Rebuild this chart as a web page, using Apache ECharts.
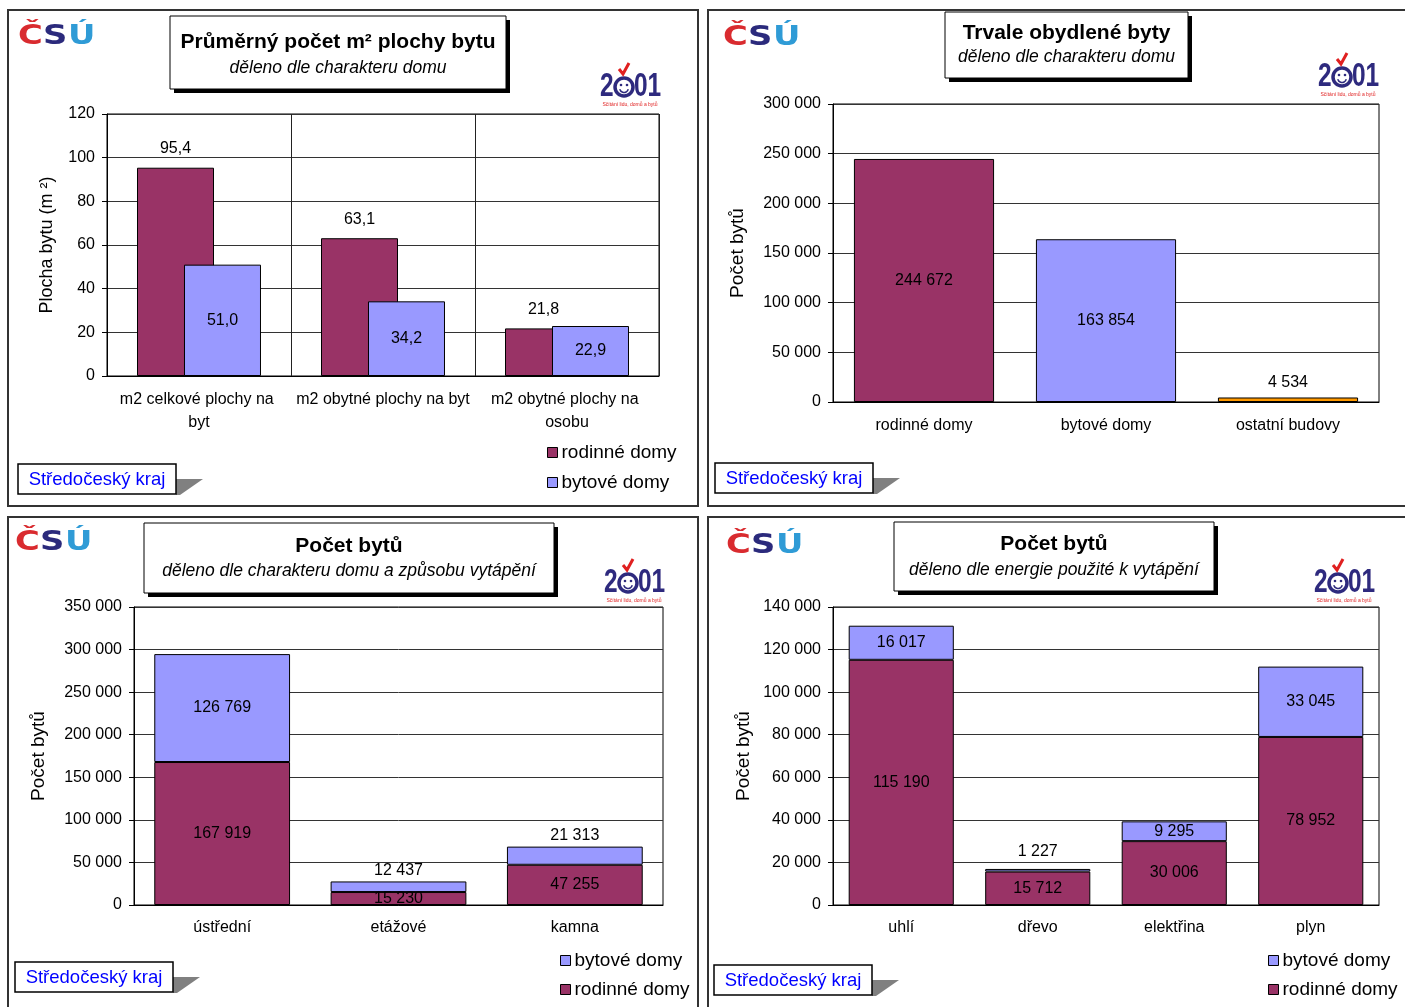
<!DOCTYPE html>
<html lang="cs">
<head>
<meta charset="utf-8">
<title>Středočeský kraj – byty</title>
<script src="https://cdn.jsdelivr.net/npm/echarts@6/dist/echarts.min.js"></script>
<style>
html, body { margin: 0; padding: 0; background: #fff; }
#chart { width: 1405px; height: 1007px; }
</style>
</head>
<body>
<div id="chart"></div>
<script>
// Průměrná plocha bytu
const plochaKategorie = ['m2 celkové plochy na byt', 'm2 obytné plochy na byt', 'm2 obytné plochy na osobu'];
const plochaRodinne = [95.4, 63.1, 21.8];
const plochaBytove = [51.0, 34.2, 22.9];
const plochaOsa = [0, 120, 20];

// Trvale obydlené byty
const obydleneKategorie = ['rodinné domy', 'bytové domy', 'ostatní budovy'];
const obydleneHodnoty = [244672, 163854, 4534];
const obydleneOsa = [0, 300000, 50000];

// Způsob vytápění
const vytapeniKategorie = ['ústřední', 'etážové', 'kamna'];
const vytapeniRodinne = [167919, 15230, 47255];
const vytapeniBytove = [126769, 12437, 21313];
const vytapeniOsa = [0, 350000, 50000];

// Energie k vytápění
const energieKategorie = ['uhlí', 'dřevo', 'elektřina', 'plyn'];
const energieRodinne = [115190, 15712, 30006, 78952];
const energieBytove = [16017, 1227, 9295, 33045];
const energieOsa = [0, 140000, 20000];

const FONT = '"Liberation Sans", Arial, sans-serif';
const RODINNE = '#993366';
const BYTOVE = '#9999ff';
const OSTATNI = '#ff9900';
const NAVY = '#2e2a7e';
const obydleneBarvy = [RODINNE, BYTOVE, OSTATNI];

function mezery(v) {
    return String(Math.round(v)).replace(/\B(?=(\d{3})+(?!\d))/g, ' ');
}
function carka(v) {
    return Number(v).toFixed(1).replace('.', ',');
}

const okraj = { borderColor: '#000', borderWidth: 1 };
const popisek = { color: '#000', fontSize: 16, fontFamily: FONT };

function kategorieOsa(gridIndex, data, extra) {
    return Object.assign({
        type: 'category', gridIndex, data,
        axisLine: { lineStyle: { color: '#000', width: 1 } },
        axisTick: { length: 5, lineStyle: { color: '#000' } },
        axisLabel: Object.assign({ margin: 16, interval: 0 }, popisek)
    }, extra || {});
}

function hodnotovaOsa(gridIndex, osa, name, nameGap, nameSize, formatter) {
    return {
        type: 'value', gridIndex, min: osa[0], max: osa[1], interval: osa[2],
        name, nameLocation: 'middle', nameGap,
        nameTextStyle: { color: '#000', fontSize: nameSize, fontFamily: FONT },
        axisLine: { show: true, lineStyle: { color: '#000' } },
        axisTick: { show: true, length: 5, lineStyle: { color: '#000' } },
        axisLabel: Object.assign({ margin: 12, formatter }, popisek),
        splitLine: { lineStyle: { color: '#333', width: 1 } }
    };
}

// --- dekorace: rámečky, loga, nadpisy ---
function ramecek(x, y, w, h) {
    return { type: 'rect', shape: { x, y, width: w, height: h }, style: { fill: 'none', stroke: '#333', lineWidth: 2 }, silent: true };
}

function nadpis(x, y, w, h, titulek, podtitulek, ty, sy) {
    return [
        { type: 'rect', shape: { x: x + 4, y: y + 4, width: w, height: h }, style: { fill: '#000' } },
        { type: 'rect', shape: { x, y, width: w, height: h }, style: { fill: '#fff', stroke: '#000', lineWidth: 1 } },
        { type: 'text', x: x + w / 2, y: y + ty, style: { text: titulek, fill: '#000', fontSize: 21, fontWeight: 'bold', fontFamily: FONT, align: 'center', verticalAlign: 'middle' } },
        { type: 'text', x: x + w / 2, y: y + sy, style: { text: podtitulek, fill: '#000', fontSize: 17.5, fontStyle: 'italic', fontFamily: FONT, align: 'center', verticalAlign: 'middle' } }
    ];
}

function kraj(x, y) {
    return [
        { type: 'polygon', shape: { points: [[x + 158, y + 15], [x + 185, y + 15], [x + 162, y + 31], [x + 158, y + 31]] }, style: { fill: '#808080' } },
        { type: 'rect', shape: { x, y, width: 158, height: 30 }, style: { fill: '#fff', stroke: '#000', lineWidth: 1.5 } },
        { type: 'text', x: x + 79, y: y + 16, style: { text: 'Středočeský kraj', fill: '#0000ff', fontSize: 18.5, fontFamily: FONT, align: 'center', verticalAlign: 'middle' } }
    ];
}

function logoCSU(x, y) {
    const pismena = [['Č', '#d92b2f', 0], ['S', '#2b2a7c', 25], ['Ú', '#2f9bd6', 50]];
    return pismena.map(([t, c, dx]) => ({
        type: 'text', x: x + dx, y: y + 4, scaleX: 1.3,
        style: { text: t, fill: c, fontSize: 26, fontWeight: 'bold', fontFamily: '"DejaVu Sans", sans-serif', align: 'left', verticalAlign: 'top' }
    }));
}

function logo2001(x, y) {
    const cx = x + 24, cy = y + 15;
    const cislice = { fill: NAVY, fontSize: 34, fontWeight: 'bold', fontFamily: FONT, verticalAlign: 'middle', align: 'left' };
    return [
        { type: 'text', x: x, y: cy, scaleX: 0.72, style: Object.assign({ text: '2' }, cislice) },
        { type: 'circle', shape: { cx, cy, r: 9 }, style: { fill: '#fff', stroke: NAVY, lineWidth: 3.5 } },
        { type: 'circle', shape: { cx: cx - 3, cy: cy - 2, r: 1.3 }, style: { fill: NAVY } },
        { type: 'circle', shape: { cx: cx + 3, cy: cy - 2, r: 1.3 }, style: { fill: NAVY } },
        { type: 'arc', shape: { cx, cy: cy + 1, r: 4.5, startAngle: 0.3, endAngle: Math.PI - 0.3 }, style: { stroke: NAVY, lineWidth: 1.5, fill: 'none' } },
        { type: 'text', x: x + 34, y: cy, scaleX: 0.72, style: Object.assign({ text: '01' }, cislice) },
        { type: 'polyline', shape: { points: [[cx - 5, y - 3], [cx - 1, y + 2], [cx + 5, y - 9]] }, style: { stroke: '#e02020', lineWidth: 3, fill: 'none' } },
        { type: 'text', x: x + 30, y: y + 33, style: { text: 'Sčítání lidu, domů a bytů', fill: '#e02020', fontSize: 5, fontFamily: FONT, align: 'center', verticalAlign: 'middle' } }
    ];
}

const grafika = [].concat(
    ramecek(8, 10, 690, 496),
    ramecek(708, 10, 700, 496),
    ramecek(8, 517, 690, 500),
    ramecek(708, 517, 700, 500),
    logoCSU(18, 20), logoCSU(723, 21), logoCSU(15, 526), logoCSU(726, 529),
    logo2001(600, 72), logo2001(1318, 62), logo2001(604, 568), logo2001(1314, 568),
    nadpis(170, 16, 336, 73, 'Průměrný počet m² plochy bytu', 'děleno dle charakteru domu', 26, 52),
    nadpis(945, 12, 243, 66, 'Trvale obydlené byty', 'děleno dle charakteru domu', 21, 45),
    nadpis(144, 523, 410, 70, 'Počet bytů', 'děleno dle charakteru domu a způsobu vytápění', 23, 48),
    nadpis(894, 522, 320, 69, 'Počet bytů', 'děleno dle energie použité k vytápění', 22, 48),
    kraj(18, 464), kraj(715, 463), kraj(15, 962), kraj(714, 965)
);

// --- řady ---
const chart = echarts.init(document.getElementById('chart'));

const legendaSpolecne = {
    orient: 'vertical', icon: 'rect', itemWidth: 10, itemHeight: 10, padding: 0,
    itemStyle: { borderColor: '#000', borderWidth: 1 },
    textStyle: { color: '#000', fontSize: 19, fontFamily: FONT, padding: [0, 0, 0, -1] }
};

chart.setOption({
    animation: false,
    backgroundColor: '#fff',
    textStyle: { fontFamily: FONT },
    grid: [
        { left: 107, top: 114, width: 552, height: 262, show: true, borderColor: '#000', borderWidth: 1, backgroundColor: '#fff' },
        { left: 833, top: 104, width: 546, height: 298, show: true, borderColor: '#000', borderWidth: 1, backgroundColor: '#fff' },
        { left: 134, top: 607, width: 529, height: 298, show: true, borderColor: '#000', borderWidth: 1, backgroundColor: '#fff' },
        { left: 833, top: 607, width: 546, height: 298, show: true, borderColor: '#000', borderWidth: 1, backgroundColor: '#fff' }
    ],
    xAxis: [
        kategorieOsa(0, plochaKategorie, {
            splitLine: { show: true, lineStyle: { color: '#222' } },
            axisLabel: Object.assign({ margin: 12, interval: 0, width: 182, overflow: 'break', lineHeight: 23 }, popisek)
        }),
        kategorieOsa(1, obydleneKategorie),
        kategorieOsa(2, vytapeniKategorie, { axisLabel: Object.assign({ margin: 15, interval: 0 }, popisek) }),
        kategorieOsa(3, energieKategorie, { axisLabel: Object.assign({ margin: 15, interval: 0 }, popisek) })
    ],
    yAxis: [
        hodnotovaOsa(0, plochaOsa, 'Plocha bytu (m ²)', 51, 18, v => v),
        hodnotovaOsa(1, obydleneOsa, 'Počet bytů', 86, 19, mezery),
        hodnotovaOsa(2, vytapeniOsa, 'Počet bytů', 86, 19, mezery),
        hodnotovaOsa(3, energieOsa, 'Počet bytů', 80, 19, mezery)
    ],
    legend: [
        Object.assign({ left: 547, top: 443, itemGap: 11, data: ['rodinné domy', 'bytové domy'] }, legendaSpolecne),
        Object.assign({ left: 560, top: 951, itemGap: 10, data: ['bytové domy', 'rodinné domy'] }, legendaSpolecne),
        Object.assign({ left: 1268, top: 951, itemGap: 10, data: ['bytové domy', 'rodinné domy'] }, legendaSpolecne)
    ],
    graphic: grafika,
    series: [
        {
            name: 'rodinné domy', type: 'bar', xAxisIndex: 0, yAxisIndex: 0,
            data: plochaRodinne, barWidth: 77, barGap: '-39%',
            itemStyle: Object.assign({ color: RODINNE }, okraj),
            label: Object.assign({ show: true, position: 'top', distance: 11, formatter: p => carka(p.value) }, popisek)
        },
        {
            name: 'bytové domy', type: 'bar', xAxisIndex: 0, yAxisIndex: 0,
            data: plochaBytove, barWidth: 77, barGap: '-39%',
            itemStyle: Object.assign({ color: BYTOVE }, okraj),
            label: Object.assign({ show: true, position: 'inside', formatter: p => carka(p.value) }, popisek)
        },
        {
            name: 'Trvale obydlené byty', type: 'bar', xAxisIndex: 1, yAxisIndex: 1,
            barWidth: '77%',
            data: obydleneHodnoty.map((v, i) => ({
                value: v,
                itemStyle: { color: obydleneBarvy[i] },
                label: { position: v < 20000 ? 'top' : 'inside' }
            })),
            itemStyle: okraj,
            label: Object.assign({ show: true, distance: 7, formatter: p => mezery(p.value) }, popisek)
        },
        {
            name: 'rodinné domy', type: 'bar', xAxisIndex: 2, yAxisIndex: 2, stack: 'vytapeni',
            data: vytapeniRodinne, barWidth: '77%',
            itemStyle: Object.assign({ color: RODINNE }, okraj),
            label: Object.assign({ show: true, position: 'inside', formatter: p => mezery(p.value) }, popisek)
        },
        {
            name: 'bytové domy', type: 'bar', xAxisIndex: 2, yAxisIndex: 2, stack: 'vytapeni',
            barWidth: '77%',
            data: vytapeniBytove.map(v => ({ value: v, label: { position: v < 50000 ? 'top' : 'inside' } })),
            itemStyle: Object.assign({ color: BYTOVE }, okraj),
            label: Object.assign({ show: true, distance: 3, formatter: p => mezery(p.value) }, popisek)
        },
        {
            name: 'rodinné domy', type: 'bar', xAxisIndex: 3, yAxisIndex: 3, stack: 'energie',
            data: energieRodinne, barWidth: '77%',
            itemStyle: Object.assign({ color: RODINNE }, okraj),
            label: Object.assign({ show: true, position: 'inside', formatter: p => mezery(p.value) }, popisek)
        },
        {
            name: 'bytové domy', type: 'bar', xAxisIndex: 3, yAxisIndex: 3, stack: 'energie',
            barWidth: '77%',
            data: energieBytove.map(v => ({ value: v, label: { position: v < 5000 ? 'top' : 'inside' } })),
            itemStyle: Object.assign({ color: BYTOVE }, okraj),
            label: Object.assign({ show: true, distance: 9, formatter: p => mezery(p.value) }, popisek)
        }
    ]
});
</script>
</body>
</html>
